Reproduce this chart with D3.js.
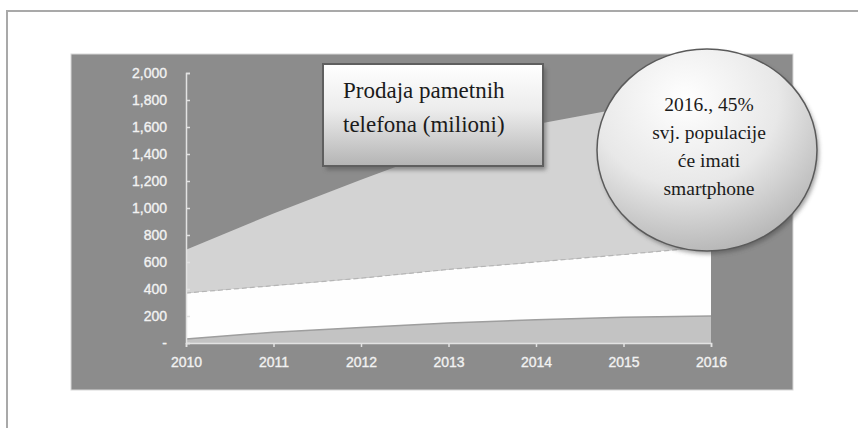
<!DOCTYPE html>
<html>
<head>
<meta charset="utf-8">
<script src="https://cdn.jsdelivr.net/npm/d3@7"></script>
<style>
  body { margin: 0; background: #fff; }
  svg { display: block; }
</style>
</head>
<body>
<div id="chart"></div>
<script>
// data (millions of units)
const years = [2010, 2011, 2012, 2013, 2014, 2015, 2016];
const bottomLayer = [30, 80, 115, 148, 172, 190, 200];
const middleLayer = [340, 345, 365, 397, 428, 465, 515];
const topLayer = [320, 535, 730, 905, 1020, 1085, 1115];
const yTicks = [0, 200, 400, 600, 800, 1000, 1200, 1400, 1600, 1800, 2000];
const titleLines = ["Prodaja pametnih", "telefona (milioni)"];
const bubbleLines = ["2016., 45%", "svj. populacije", "će imati", "smartphone"];

const W = 858, H = 428;

const rows = years.map((yr, i) => ({
    year: yr, bottom: bottomLayer[i], middle: middleLayer[i], top: topLayer[i]
}));
const stack = d3.stack().keys(["bottom", "middle", "top"]);
const layers = stack(rows);
const fills = { bottom: "#c3c3c3", middle: "#fefefe", top: "#d3d3d3" };

const svg = d3.select("#chart").append("svg")
    .attr("width", W)
    .attr("height", H);

const defs = svg.append("defs");
const boxGrad = defs.append("linearGradient").attr("id", "boxGrad")
    .attr("x1", 0).attr("y1", 0).attr("x2", 0).attr("y2", 1);
boxGrad.append("stop").attr("offset", "0%").attr("stop-color", "#ffffff");
boxGrad.append("stop").attr("offset", "45%").attr("stop-color", "#ececec");
boxGrad.append("stop").attr("offset", "100%").attr("stop-color", "#b4b4b4");

const bubbleGrad = defs.append("radialGradient").attr("id", "bubbleGrad")
    .attr("cx", "40%").attr("cy", "25%").attr("r", "85%");
bubbleGrad.append("stop").attr("offset", "0%").attr("stop-color", "#ffffff");
bubbleGrad.append("stop").attr("offset", "50%").attr("stop-color", "#e8e8e8");
bubbleGrad.append("stop").attr("offset", "100%").attr("stop-color", "#ababab");

const blur = defs.append("filter").attr("id", "shadow")
    .attr("x", "-10%").attr("y", "-10%").attr("width", "130%").attr("height", "130%");
blur.append("feGaussianBlur").attr("stdDeviation", 2);

// outer frame (only top and left edges visible)
svg.append("path")
    .attr("d", "M7," + H + " V11 H" + W)
    .attr("fill", "none")
    .attr("stroke", "#a9a9a9")
    .attr("stroke-width", 2);

// grey picture background
svg.append("rect")
    .attr("x", 71).attr("y", 54)
    .attr("width", 722).attr("height", 336)
    .attr("fill", "#8c8c8c")
    .attr("stroke", "#d8d8d8")
    .attr("stroke-width", 1);

const x = d3.scaleLinear().domain([2010, 2016]).range([186, 711]);
const y = d3.scaleLinear().domain([0, 2000]).range([343, 73]);

const area = d3.area()
    .x(d => x(d.data.year))
    .y0(d => y(d[0]))
    .y1(d => y(d[1]));

svg.append("g").selectAll("path")
    .data(layers)
    .join("path")
    .attr("d", area)
    .attr("fill", d => fills[d.key]);

// boundary lines between layers
const edge = d3.line()
    .x(d => x(d.data.year))
    .y(d => y(d[1]));
svg.append("path")
    .datum(layers[0])
    .attr("d", edge)
    .attr("fill", "none")
    .attr("stroke", "#9e9e9e")
    .attr("stroke-width", 1.5);
svg.append("path")
    .datum(layers[1])
    .attr("d", edge)
    .attr("fill", "none")
    .attr("stroke", "#b5b5b5")
    .attr("stroke-width", 1.2)
    .attr("stroke-dasharray", "5,3");

// axes
const axisColor = "#e2e2e2";
const fmt = d3.format(",");
const yAxis = svg.append("g")
    .attr("transform", "translate(" + x(2010) + ",0)")
    .call(d3.axisLeft(y).tickValues(yTicks).tickSize(-4).tickPadding(19)
        .tickFormat(d => d === 0 ? "-" : fmt(d)));
const xAxis = svg.append("g")
    .attr("transform", "translate(0," + y(0) + ")")
    .call(d3.axisBottom(x).tickValues(years).tickSize(4).tickPadding(10)
        .tickFormat(d3.format("d")));

[yAxis, xAxis].forEach(g => {
    g.selectAll("path, line").attr("stroke", axisColor).attr("stroke-width", 1.5);
    g.selectAll("text")
        .attr("fill", "#f2f2f2")
        .attr("stroke", "#f2f2f2")
        .attr("stroke-width", 0.35)
        .style("font-family", "'Liberation Sans', Arial, sans-serif")
        .style("font-size", "14px");
});

// title box
const box = { x: 323, y: 64, w: 220, h: 102 };
svg.append("rect")
    .attr("x", box.x + 3).attr("y", box.y + 4)
    .attr("width", box.w).attr("height", box.h)
    .attr("fill", "#555")
    .attr("opacity", 0.6)
    .attr("filter", "url(#shadow)");
svg.append("rect")
    .attr("x", box.x).attr("y", box.y)
    .attr("width", box.w).attr("height", box.h)
    .attr("fill", "url(#boxGrad)")
    .attr("stroke", "#5f5f5f")
    .attr("stroke-width", 2);
svg.append("g").selectAll("text")
    .data(titleLines)
    .join("text")
    .attr("x", 343)
    .attr("y", (d, i) => 98 + i * 34)
    .attr("fill", "#1b1b1b")
    .style("font-family", "'Liberation Serif', 'Times New Roman', serif")
    .style("font-size", "23px")
    .text(d => d);

// bubble
const bub = { cx: 707, cy: 150, rx: 110, ry: 101 };
svg.append("ellipse")
    .attr("cx", bub.cx + 2).attr("cy", bub.cy + 3)
    .attr("rx", bub.rx).attr("ry", bub.ry)
    .attr("fill", "#444")
    .attr("opacity", 0.5)
    .attr("filter", "url(#shadow)");
svg.append("ellipse")
    .attr("cx", bub.cx).attr("cy", bub.cy)
    .attr("rx", bub.rx).attr("ry", bub.ry)
    .attr("fill", "url(#bubbleGrad)")
    .attr("stroke", "#5a5a5a")
    .attr("stroke-width", 1.5);
svg.append("g").selectAll("text")
    .data(bubbleLines)
    .join("text")
    .attr("x", 709)
    .attr("y", (d, i) => 111 + i * 28)
    .attr("text-anchor", "middle")
    .attr("fill", "#1b1b1b")
    .style("font-family", "'Liberation Serif', 'Times New Roman', serif")
    .style("font-size", "19.5px")
    .text(d => d);
</script>
</body>
</html>
